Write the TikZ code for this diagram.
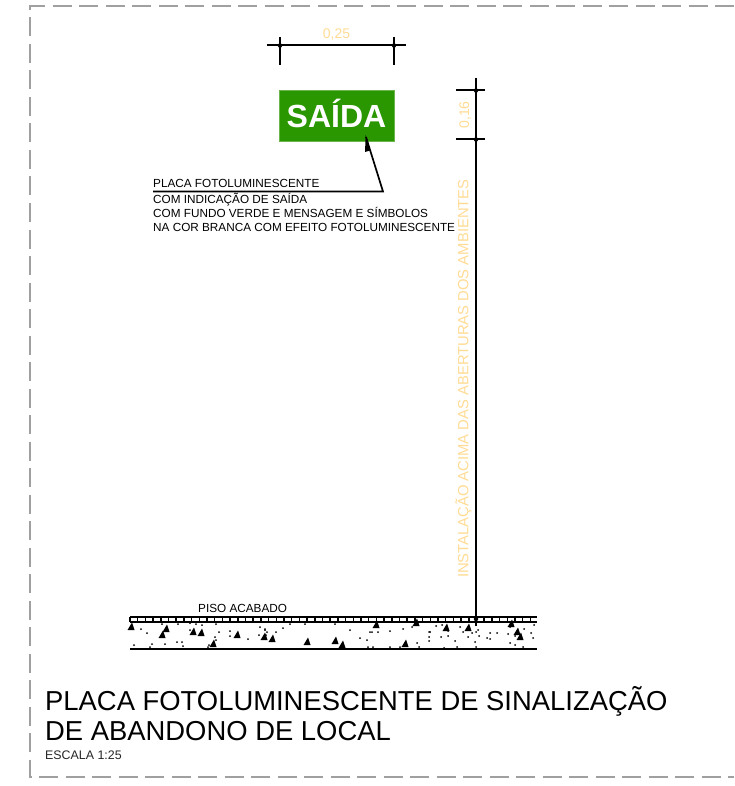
\documentclass[tikz,border=0pt]{standalone}
\usepackage{fontspec}
\setmainfont{Liberation Sans}
\definecolor{dimtext}{HTML}{FFDC94}
\definecolor{signgreen}{HTML}{2A9600}
\definecolor{framegray}{HTML}{A0A0A0}
\tikzset{
  frameline/.style={draw=framegray,line width=1.5pt,dash pattern=on 19pt off 7.5pt},
  dimline/.style={draw=black,line width=2pt},
  dimdot/.style={circle,fill=black,inner sep=0pt,minimum size=4.5pt},
  dimlabel/.style={text=dimtext,inner sep=0pt,font=\fontsize{14}{16}\selectfont},
  longlabel/.style={text=dimtext,inner sep=0pt,font=\fontsize{14.8}{16}\selectfont},
  note/.style={anchor=base west,inner sep=0pt,font=\fontsize{11.75}{14}\selectfont},
  floorline/.style={draw=black,line width=1.8pt},
  titletext/.style={anchor=base west,inner sep=0pt,font=\fontsize{27.4}{30}\selectfont},
  grit/.style={fill=black,draw=none}
}
\newcommand{\tri}[2]{\fill[grit] (#1-3.5,#2+3) -- (#1+3.5,#2+3) -- (#1+1,#2-4.5) -- cycle;}
\begin{document}
\begin{tikzpicture}[x=1pt,y=-1pt]
\useasboundingbox[fill=white] (0,0) rectangle (734,786);
% frame
\draw[frameline] (734,6) -- (30,6) -- (30,777) -- (734,777);
% width dimension
\coordinate (wl) at (267,45.5); \coordinate (wr) at (406,45.5);
\draw[dimline] (wl) -- (wr);
\draw[dimline] (280,37) -- (280,65);
\draw[dimline] (394,37) -- (394,65);
\node[dimdot] at (280,45.5) {}; \node[dimdot] at (394,45.5) {};
\node[dimlabel] (w) at (336.5,34.5) {0,25};
% sign
\node[fill=signgreen,draw=signgreen!70!white,line width=.4pt,minimum width=115pt,minimum height=51pt,inner sep=0pt,text=white,font=\bfseries\fontsize{32}{34}\selectfont] (sign) at (336.5,115.5) {\raisebox{4pt}{SAÍDA}};
% vertical dimension
\coordinate (vt) at (476,78); \coordinate (vb) at (476,626);
\draw[dimline] (vt) -- (vb);
\draw[dimline] (456,90.5) -- (485,90.5);
\draw[dimline] (456,139.5) -- (485,139.5);
\node[dimdot] at (476,90.5) {}; \node[dimdot] at (476,139.5) {};
\node[dimlabel,rotate=90] (h) at (465,115) {0,16};
\node[longlabel,rotate=90,anchor=west] (inst) at (463.5,578) {INSTALAÇÃO ACIMA DAS ABERTURAS DOS AMBIENTES};
% leader
\coordinate (ll) at (153,191.5); \coordinate (lk) at (383,191.5); \coordinate (lt) at (366,137);
\draw[draw=black,line width=1.7pt,line join=miter] (ll) -- (lk) -- (lt);
\fill (365.7,135) -- (365,152) -- (370,150.5) -- cycle;
\node[note] (n1) at (153,188) {PLACA FOTOLUMINESCENTE};
\node[note] (n2) at (153,203.3) {COM INDICAÇÃO DE SAÍDA};
\node[note] (n3) at (153,217.7) {COM FUNDO VERDE E MENSAGEM E SÍMBOLOS};
\node[note] (n4) at (153,231.7) {NA COR BRANCA COM EFEITO FOTOLUMINESCENTE};
% floor
\node[note] (piso) at (198,612.5) {PISO ACABADO};
\draw[floorline] (130,616.7) -- (537,616.7);
\draw[floorline] (130,621.7) -- (537,621.7);
\draw[floorline] (130,649) -- (537,649);
\foreach \x in {130,137.7,...,537} \draw[black,line width=1.5pt] (\x,616.7) -- (\x,621.7);
\node[dimdot] at (476,619) {};
% aggregate triangles
\foreach \a/\b in {131/627,162/635,166/629,193/632,201/633,213/644,237/635,264/637,272/639,307/642,
 376/625,446/628,468/628,511/624,517/632,520/637,335/641,342/645,405/644,416/623}{\tri{\a}{\b}}
% aggregate dots
\foreach \a/\b in {141/629,147/633,162/624,178/624,190/623,190/630,196/624,202/625,216/624,219/632,
 134/645,150/647,152/644,165/644,177/642,182/642,183/646,208/647,209/645,216/640,230/631,215/637,
 230/636,260/627,265/629,267/632,259/635,265/630,248/639,266/635,
 276/632,283/628,290/624,300/622,305/624,320/622,335/624,
 350/630,367/640,370/632,372/632,378/632,390/631,403/629,412/627,430/632,436/626,442/625,
 360/638,368/647,390/647,400/647,417/643,419/647,
 429/632,429/637,429/641,441/637,460/627,463/632,468/637,472/633,478/630,
 448/631,448/636,510/627,508/634,510/643,455/641,475/642,487/638,497/633,490/639,
 476/632,479/636,490/633,524/629,531/633,515/636,534/625,533/638,
 523/647,515/645,476/647,457/647,444/648,373/647}{\fill[grit] (\a,\b) circle (1);}
% titles
\node[titletext] (t1) at (45,710.5) {PLACA FOTOLUMINESCENTE DE SINALIZAÇÃO};
\node[titletext] (t2) at (45,740.5) {DE ABANDONO DE LOCAL};
\node[anchor=base west,inner sep=0pt,font=\fontsize{12.4}{14}\selectfont,text=black!85] (esc) at (45,759) {ESCALA 1:25};
\end{tikzpicture}
\end{document}
